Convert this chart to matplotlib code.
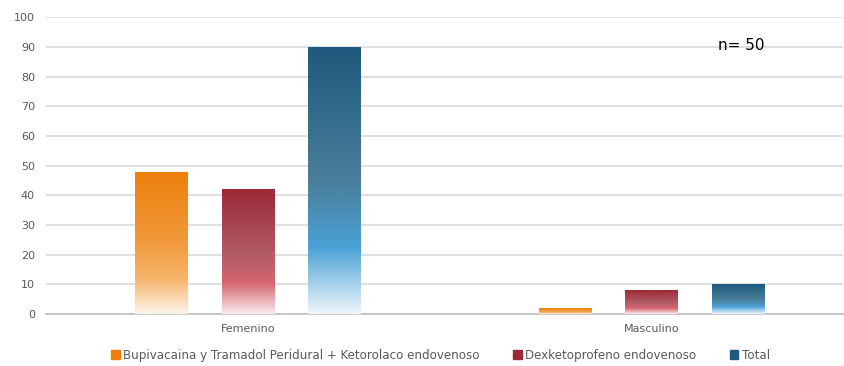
import matplotlib.pyplot as plt
import numpy as np
from matplotlib.colors import LinearSegmentedColormap

categorias = ["Femenino", "Masculino"]
series = ["Bupivacaina y Tramadol Peridural + Ketorolaco endovenoso",
          "Dexketoprofeno endovenoso", "Total"]
bupi = [48, 2]
dexke = [42, 8]
total = [90, 10]

plt.rcParams['font.family'] = ['DejaVu Sans']

# gradient stops: bottom -> top
grad = [
    ["#fdf4ea", "#f6b46a", "#f19a3c", "#ee7f0c"],
    ["#f9ecef", "#d4666f", "#b05a65", "#9b2937"],
    ["#f0f6fb", "#4aa1d6", "#4a7e9a", "#1e5a7e"],
]
stops = [0.0, 0.25, 0.5, 1.0]
legcol = ["#ee7f0c", "#9b2937", "#1e5a7e"]

fig = plt.figure(figsize=(8.44, 3.66), dpi=100)
ax = fig.add_axes([0.0545, 0.142, 0.944, 0.811])

x = np.arange(len(categorias))
w = 0.13
step = 0.215
for i, vals in enumerate([bupi, dexke, total]):
    cmap = LinearSegmentedColormap.from_list("g%d" % i, list(zip(stops, grad[i])))
    bars = ax.bar(x + (i - 1) * step, vals, w, color="none", edgecolor="none",
                  label=series[i], zorder=3)
    for b in bars:
        x0, y0 = b.get_x(), b.get_y()
        x1, y1 = x0 + b.get_width(), y0 + b.get_height()
        img = np.linspace(0, 1, 256).reshape(-1, 1)
        im = ax.imshow(img, cmap=cmap, origin="lower", aspect="auto",
                       extent=[x0, x1, y0, y1], zorder=3)
        im.set_clip_path(b)

ax.set_xlim(-0.5, 1.473)
ax.set_ylim(0, 100)
ax.set_yticks(np.arange(0, 101, 10))
ax.set_xticks(x)
ax.set_xticklabels(categorias)
ax.grid(axis="y", color="#d9d9d9", linewidth=1.2, zorder=0)
ax.set_axisbelow(True)
for s in ["top", "right", "left"]:
    ax.spines[s].set_visible(False)
ax.spines["bottom"].set_color("#bfbfbf")
ax.spines["bottom"].set_linewidth(1.2)
ax.tick_params(length=0, labelsize=8, colors="#595959", pad=8)
ax.tick_params(axis="x", pad=7)

ax.text(0.843, 0.905, "n= 50", transform=ax.transAxes, fontsize=11,
        va="center", ha="left", color="black")

handles = [plt.Rectangle((0, 0), 1, 1, color=c) for c in legcol]
fig.legend(handles, series, loc="center", bbox_to_anchor=(0.522, 0.03), ncol=3,
           frameon=False, fontsize=8.6, handlelength=0.7, handleheight=0.7,
           handletextpad=0.3, columnspacing=2.8, labelcolor="#595959")

fig.savefig("out.png", dpi=100)
